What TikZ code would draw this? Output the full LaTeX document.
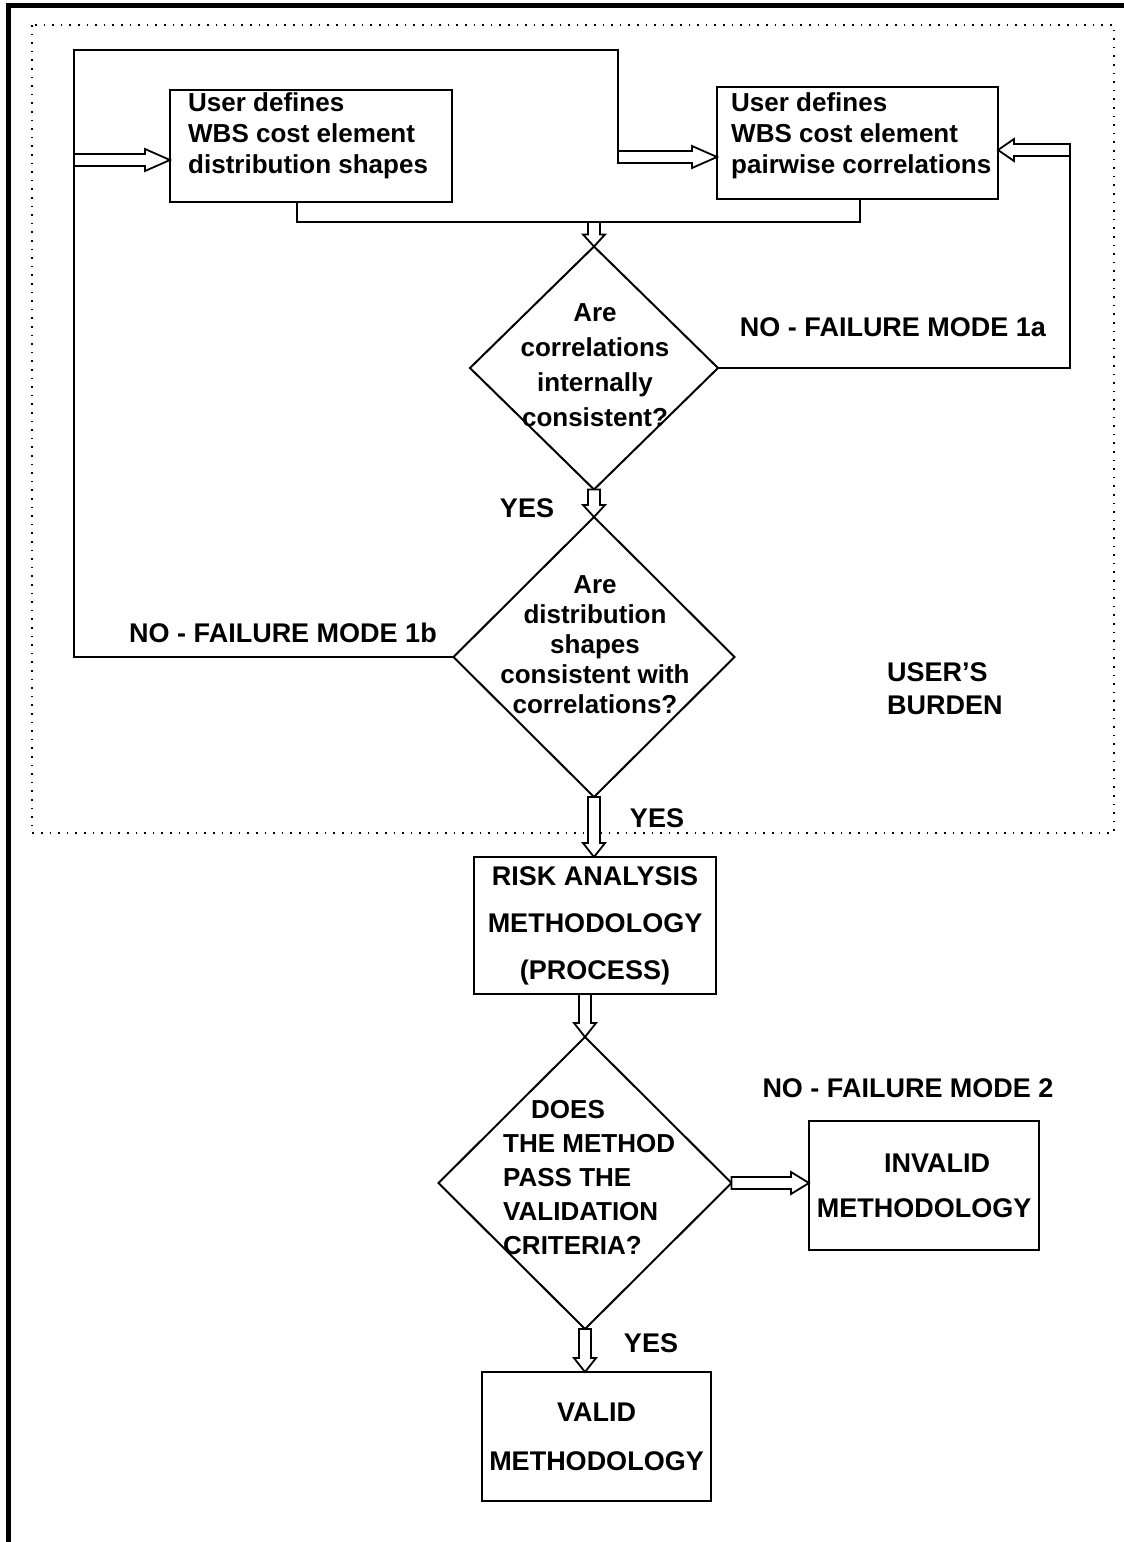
\documentclass[tikz,border=0pt]{standalone}
\usepackage{fontspec}
\setmainfont{Liberation Sans}
\usetikzlibrary{shapes.geometric,calc}
\begin{document}
\begin{tikzpicture}[x=1pt,y=-1pt, line join=miter,
  box/.style={draw, line width=2.2pt, inner sep=0pt, outer sep=0pt},
  dia/.style={diamond, draw, line width=2pt, inner sep=0pt, outer sep=0pt},
  txt/.style={font=\fontsize{27}{35}\selectfont\bfseries, inner sep=0pt},
  boxtxt/.style={font=\fontsize{26}{31}\selectfont\bfseries, inner sep=0pt, align=left, anchor=west},
  link/.style={line width=2pt},
  hollow/.style={draw, fill=white, line width=1.8pt,
    to path={let \p1=(\tikztostart), \p2=(\tikztotarget), \p3=($(\p2)!#1!(\p1)$) in
      ($(\p1)!6pt!90:(\p2)$) -- ($(\p3)!6pt!90:(\p2)$) -- ($(\p3)!11pt!90:(\p2)$) -- (\p2)
      -- ($(\p3)!11pt!-90:(\p2)$) -- ($(\p3)!6pt!-90:(\p2)$) -- ($(\p1)!6pt!-90:(\p2)$) -- cycle}},
  hollow/.default=16pt]
\useasboundingbox (0,0) rectangle (1124,1542);

% outer frame and user's burden region
\draw[line width=5pt] (8,1542) -- (8,5) -- (1124,5);
\draw[line width=1.6pt, dash pattern=on 1.6pt off 7pt] (32,25) rectangle (1114,833);

% boxes
\node[box, minimum width=282pt, minimum height=112pt] (b1) at (311,146) {};
\node[boxtxt] (b1t) at ($(b1.west)+(18,-10)$) {User defines\\WBS cost element\\distribution shapes};
\node[box, minimum width=281pt, minimum height=112pt] (b2) at (857.5,143) {};
\node[boxtxt] (b2t) at ($(b2.west)+(14,-7)$) {User defines\\WBS cost element\\pairwise correlations};

\node[box, minimum width=242pt, minimum height=137pt] (b3) at (595,925.5) {};
\node[txt, align=center, font=\fontsize{27}{47}\selectfont\bfseries] (b3t) at (b3.center) {RISK ANALYSIS\\METHODOLOGY\\(PROCESS)};
\node[box, minimum width=230pt, minimum height=129pt] (b4) at (924,1185.5) {};
\node[txt, align=center, font=\fontsize{27}{45}\selectfont\bfseries] (b4t) at (b4.center) {\hspace*{26pt}INVALID\\METHODOLOGY};
\node[box, minimum width=229pt, minimum height=129pt] (b5) at (596.5,1436.5) {};
\node[txt, align=center, font=\fontsize{27}{49}\selectfont\bfseries] (b5t) at (b5.center) {VALID\\METHODOLOGY};

% decisions
\node[dia, minimum width=248pt, minimum height=243pt] (d1) at (594,368) {};
\node[txt, align=center, font=\fontsize{26}{35}\selectfont\bfseries] (d1t) at (595,365) {Are\\correlations\\internally\\consistent?};
\node[dia, minimum width=281pt, minimum height=280pt] (d2) at (594,657) {};
\node[txt, align=center, font=\fontsize{26}{30}\selectfont\bfseries] (d2t) at (595,645) {Are\\distribution\\shapes\\consistent with\\correlations?};
\node[dia, minimum width=293pt, minimum height=292pt] (d3) at (585,1183) {};
\node[txt, align=left, anchor=west, font=\fontsize{26}{34}\selectfont\bfseries] (d3t) at (503,1178) {\hspace*{28pt}DOES\\THE METHOD\\PASS THE\\VALIDATION\\CRITERIA?};

% labels
\node[txt] (n1a) at (893,327) {NO - FAILURE MODE 1a};
\node[txt] (n1b) at (283,633) {NO - FAILURE MODE 1b};
\node[txt] (y1) at (527,508) {YES};
\node[txt] (y2) at (657,818) {YES};
\node[txt] (y3) at (651,1343) {YES};
\node[txt] (n2) at (908,1088) {NO - FAILURE MODE 2};
\node[txt, align=left, anchor=west, font=\fontsize{27}{33}\selectfont\bfseries] (ub) at (887,689) {USER'S\\BURDEN};

% connector coordinates
\coordinate (mL) at (297,222);
\coordinate (mR) at (860,222);
\coordinate (lT) at (74,50);
\coordinate (mT) at (618,50);
\coordinate (a1) at (74,160);
\coordinate (a2) at (618,157);
\coordinate (rR) at (1070,150);

% plain connectors
\draw[link] (b1.south -| mL) -- (mL) -- (mR) -- (b2.south -| mR);
\draw[link] (d1.east) -- (d1.east -| rR) -- (rR);
\draw[link] (d2.west) -- (d2.west -| lT) -- (lT) -- (mT) -- ($(a2)+(0,6)$);

% hollow arrows
\draw[hollow=12pt] (d1.north |- mL) to (d1.north);
\draw[hollow=12pt] (d1.south) to (d2.north);
\draw[hollow=14pt] (d2.south) to (d2.south |- b3.north);
\draw[hollow=14pt] (b3.south -| d3.north) to (d3.north);
\draw[hollow=14pt] (d3.south) to (d3.south |- b5.north);
\draw[hollow=18pt] (d3.east) to (d3.east -| b4.west);
\draw[hollow=16pt] (rR) to (rR -| b2.east);
\draw[hollow=25pt] (a1) to (a1 -| b1.west);
\draw[hollow=25pt] (a2) to (a2 -| b2.west);
\end{tikzpicture}
\end{document}
